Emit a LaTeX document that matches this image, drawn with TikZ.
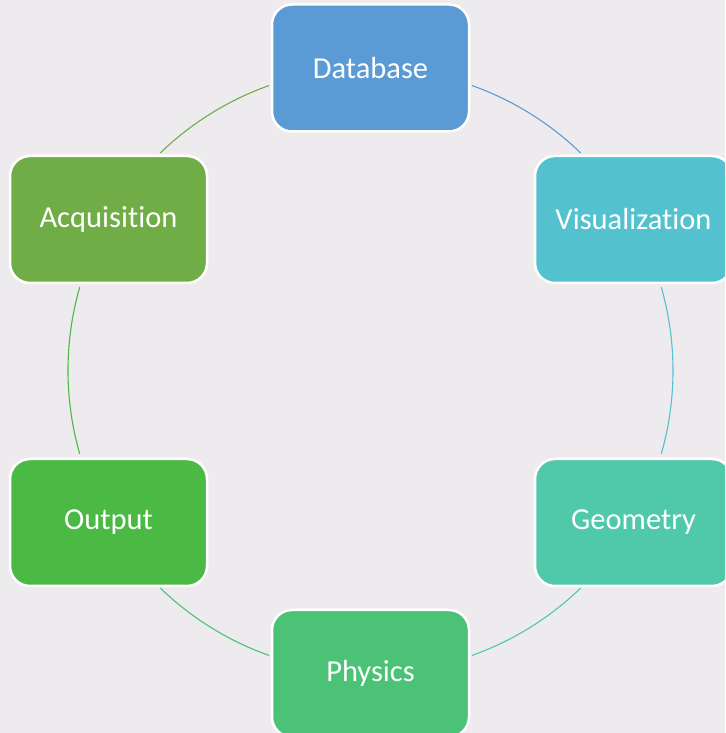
\documentclass[tikz,border=0pt]{standalone}
\usepackage{fontspec}
\setmainfont[Ligatures={NoCommon}]{Carlito}
\usetikzlibrary{calc}
\definecolor{bg}{HTML}{EDEBEE}
\definecolor{cdb}{HTML}{5B9BD5}
\definecolor{cvis}{HTML}{54C1CE}
\definecolor{cgeo}{HTML}{50C8AA}
\definecolor{cphy}{HTML}{4BC276}
\definecolor{cout}{HTML}{4BBA45}
\definecolor{cacq}{HTML}{70AD47}
\tikzset{
  box/.style={rectangle, rounded corners=20pt, draw=white, line width=2.5pt,
    minimum width=197pt, minimum height=127pt, text=white, inner sep=0pt,
    font=\fontsize{30.5}{36}\selectfont},
  ring/.style={line width=1.1pt}
}
\begin{document}
\begin{tikzpicture}[x=1pt,y=1pt]
\useasboundingbox (0,0) rectangle (725,733);
\clip (0,0) rectangle (725,733);
\fill[bg] (0,0) rectangle (725,733);
\coordinate (c) at (370.5,362.5);
\def\R{302.5}
\draw[ring, cdb]  ($(c)+(70.4:\R pt)$) arc[start angle=70.4, end angle=46.0, radius=\R pt];
\draw[ring, cvis] ($(c)+(16.0:\R pt)$) arc[start angle=16.0, end angle=-16.0, radius=\R pt];
\draw[ring, cgeo] ($(c)+(-46.0:\R pt)$) arc[start angle=-46.0, end angle=-70.4, radius=\R pt];
\draw[ring, cphy] ($(c)+(-109.6:\R pt)$) arc[start angle=-109.6, end angle=-134.0, radius=\R pt];
\draw[ring, cout] ($(c)+(-164.0:\R pt)$) arc[start angle=-164.0, end angle=-196.0, radius=\R pt];
\draw[ring, cacq] ($(c)+(134.0:\R pt)$) arc[start angle=134.0, end angle=109.6, radius=\R pt];
\node[box, fill=cdb]  (db)  at (370.5,665)   {Database};
\node[box, fill=cvis] (vis) at (633.5,513.5) {Visualization};
\node[box, fill=cgeo] (geo) at (633.5,210.5) {Geometry};
\node[box, fill=cphy] (phy) at (370.5,59.5)  {Physics};
\node[box, fill=cout] (out) at (108.5,210.5) {Output};
\node[box, fill=cacq] (acq) at (108.5,513.5) {Acquisition};
\end{tikzpicture}
\end{document}
